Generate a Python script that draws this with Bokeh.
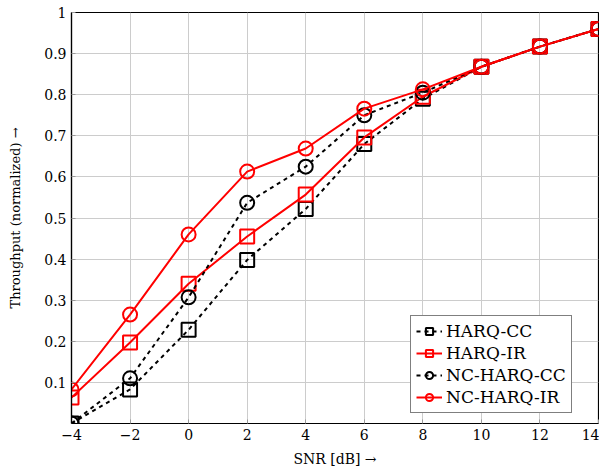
from bokeh.plotting import figure
from bokeh.models import FixedTicker, Legend, LegendItem
from bokeh.embed import file_html
from bokeh.resources import INLINE

snr = [-4, -2, 0, 2, 4, 6, 8, 10, 12, 14]
harq_cc = [0.0, 0.083, 0.228, 0.398, 0.522, 0.680, 0.790, 0.868, 0.917, 0.960]
harq_ir = [0.063, 0.197, 0.340, 0.455, 0.557, 0.696, 0.795, 0.868, 0.917, 0.960]
nc_harq_cc = [0.0, 0.110, 0.307, 0.537, 0.625, 0.750, 0.805, 0.868, 0.917, 0.960]
nc_harq_ir = [0.083, 0.265, 0.460, 0.613, 0.669, 0.766, 0.813, 0.868, 0.917, 0.960]

x_ticks = [-4, -2, 0, 2, 4, 6, 8, 10, 12, 14]
y_ticks = [0.1, 0.2, 0.3, 0.4, 0.5, 0.6, 0.7, 0.8, 0.9, 1.0]

FONT = "DejaVu Serif"

p = figure(width=599, height=470, output_backend="svg", toolbar_location=None,
           x_range=(-4, 14), y_range=(0, 1),
           min_border_left=71, min_border_right=1, min_border_top=12, min_border_bottom=47)

p.outline_line_color = "black"
p.outline_line_width = 1.2

p.xaxis.ticker = FixedTicker(ticks=x_ticks)
p.xaxis.major_label_overrides = {t: (("\u2212" + str(-t)) if t < 0 else str(t)) for t in x_ticks}
p.yaxis.ticker = FixedTicker(ticks=y_ticks)
p.yaxis.major_label_overrides = {t: ("1" if t == 1.0 else f"{t:.1f}") for t in y_ticks}

for ax in (p.xaxis[0], p.yaxis[0]):
    ax.axis_line_color = "black"
    ax.axis_line_width = 1.2
    ax.major_tick_in = 4
    ax.major_tick_out = 0
    ax.major_tick_line_color = "#999999"
    ax.minor_tick_line_color = None
    ax.major_label_text_font = FONT
    ax.major_label_text_font_size = "14px"
    ax.major_label_text_color = "black"
    ax.axis_label_text_font = FONT
    ax.axis_label_text_font_style = "normal"
    ax.axis_label_text_color = "black"

p.xaxis.axis_label = "SNR [dB] \u2192"
p.xaxis.axis_label_text_font_size = "14px"
p.xaxis.major_label_standoff = 5
p.xaxis.axis_label_standoff = 8
p.yaxis.axis_label = "Throughput (normalized) \u2192"
p.yaxis.axis_label_text_font_size = "13px"
p.yaxis.major_label_standoff = 5
p.yaxis.axis_label_standoff = 18

p.grid.grid_line_color = "#cccccc"
p.grid.grid_line_width = 1

series = [
    ("HARQ-CC", harq_cc, "black", "dashed", "square"),
    ("HARQ-IR", harq_ir, "#ff0000", "solid", "square"),
    ("NC-HARQ-CC", nc_harq_cc, "black", "dashed", "circle"),
    ("NC-HARQ-IR", nc_harq_ir, "#ff0000", "solid", "circle"),
]

items = []
for name, vals, color, dash, marker in series:
    r1 = p.line(snr, vals, line_color=color, line_width=2,
                line_dash=("4 4" if dash == "dashed" else "solid"))
    r2 = p.scatter(snr, vals, marker=marker, size=14, line_color=color,
                   line_width=2, fill_alpha=0)
    items.append(LegendItem(label=name, renderers=[r1, r2]))

legend = Legend(items=items, location=(339, 10))
legend.label_text_font = FONT
legend.label_text_font_size = "17px"
legend.label_text_line_height = 1.0
legend.label_text_color = "black"
legend.label_height = 18
legend.glyph_height = 18
legend.glyph_width = 26
legend.spacing = 2
legend.padding = 5
legend.margin = 0
legend.label_standoff = 4
legend.border_line_color = "black"
legend.border_line_width = 1
legend.background_fill_color = "white"
legend.background_fill_alpha = 1
p.add_layout(legend, "center")

open("out.html", "w").write(file_html(p, INLINE))
